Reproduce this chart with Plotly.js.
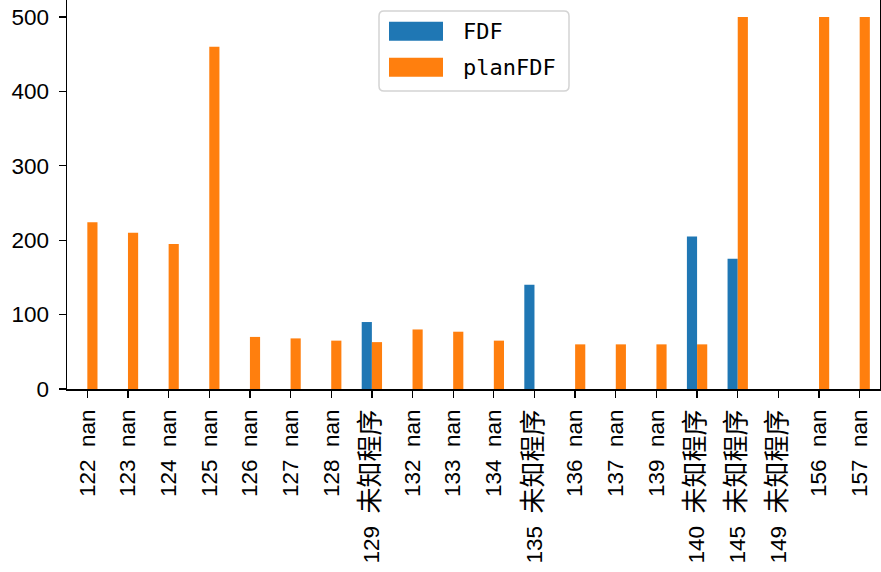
<!DOCTYPE html>
<html>
<head>
<meta charset="utf-8">
<script src="https://cdn.plot.ly/plotly-3.0.1.min.js"></script>
<style>html,body{margin:0;padding:0;background:#fff;}#chart{width:881px;height:572px;}</style>
</head>
<body>
<div id="chart"></div>
<script>
// ---- data ----
const ids = [122,123,124,125,126,127,128,129,132,133,134,135,136,137,139,140,145,149,156,157];
const names = ['nan','nan','nan','nan','nan','nan','nan','未知程序','nan','nan','nan','未知程序','nan','nan','nan','未知程序','未知程序','未知程序','nan','nan'];
const seriesNames = ['FDF','planFDF'];
const fdf = [null,null,null,null,null,null,null,90,null,null,null,140,null,null,null,205,175,null,null,null];
const planFdf = [224,210,195,460,70,68,65,63,80,77,65,null,60,60,60,60,500,null,500,500];
const colors = ['#1f77b4','#ff7f0e'];

const NB = '\u00a0';
const labels = ids.map((id,i)=> id + NB + names[i].padStart(4, NB));
// display text: CJK part drawn a bit larger, like the reference font
const isCJK = s => /[\u4e00-\u9fff]/.test(s);
const tickText = ids.map((id,i)=> id + NB + (isCJK(names[i])
  ? NB + '<span style="font-size:26px">' + names[i] + '</span>'
  : names[i].padStart(4, NB)));

// ---- layout geometry (pixels) ----
const W=881, H=572, ML=67, MR=1, MT=0, MB=183;
const PW = W-ML-MR, PH = H-MT-MB;
const px = x => (x-ML)/PW;
const py = y => (MT+PH-y)/PH;

const traces = [fdf, planFdf].map((vals,k)=>({
  type:'bar', name:seriesNames[k], x:labels, y:vals,
  marker:{color:colors[k], line:{width:0}}, showlegend:false, hoverinfo:'x+y'
}));

function roundRect(x0,y0,x1,y1,r){
  const X0=px(x0),X1=px(x1),Y0=py(y0),Y1=py(y1);
  const rx=r/PW, ry=r/PH;
  return `M${X0+rx},${Y0} L${X1-rx},${Y0} Q${X1},${Y0} ${X1},${Y0-ry} L${X1},${Y1+ry} Q${X1},${Y1} ${X1-rx},${Y1} L${X0+rx},${Y1} Q${X0},${Y1} ${X0},${Y1+ry} L${X0},${Y0-ry} Q${X0},${Y0} ${X0+rx},${Y0} Z`;
}

const shapes = [{
  type:'path', xref:'paper', yref:'paper', path:roundRect(379,11,569,91,5),
  fillcolor:'rgba(255,255,255,0.8)', line:{color:'#d4d4d4', width:1.5}, layer:'above'
}];
const annotations = [];
const rowY = [[21.7,40.7],[57.7,76.7]];
seriesNames.forEach((n,k)=>{
  shapes.push({type:'rect', xref:'paper', yref:'paper', x0:px(389), x1:px(443), y0:py(rowY[k][1]), y1:py(rowY[k][0]),
    fillcolor:colors[k], line:{width:0}, layer:'above'});
  annotations.push({xref:'paper', yref:'paper', x:px(461), y:py((rowY[k][0]+rowY[k][1])/2),
    xanchor:'left', yanchor:'middle', text:n, showarrow:false,
    font:{family:'DejaVu Sans Mono, monospace', size:22, color:'#000'}});
});

const layout = {
  width:W, height:H,
  margin:{l:ML, r:MR, t:MT, b:MB, pad:0},
  paper_bgcolor:'#fff', plot_bgcolor:'#fff',
  font:{family:'Liberation Sans, Noto Sans CJK SC, sans-serif', size:22.5, color:'#000'},
  barmode:'group', bargap:0.5, bargroupgap:0,
  showlegend:false,
  xaxis:{type:'category', categoryorder:'array', categoryarray:labels,
    tickmode:'array', tickvals:labels, ticktext:tickText,
    showline:true, linecolor:'#000', linewidth:1.5, mirror:false,
    ticks:'outside', ticklen:7, tickwidth:1.3, tickcolor:'#000', ticklabelstandoff:3,
    tickangle:-90, showgrid:false, zeroline:false, automargin:false},
  yaxis:{range:[0,522.8], dtick:100, tick0:0,
    showline:true, linecolor:'#000', linewidth:1.5, mirror:true,
    ticks:'outside', ticklen:7, tickwidth:1.3, tickcolor:'#000', ticklabelstandoff:5,
    showgrid:false, zeroline:false, automargin:false},
  shapes:shapes, annotations:annotations
};

Plotly.newPlot('chart', traces, layout, {displayModeBar:false, staticPlot:true});
</script>
</body>
</html>
